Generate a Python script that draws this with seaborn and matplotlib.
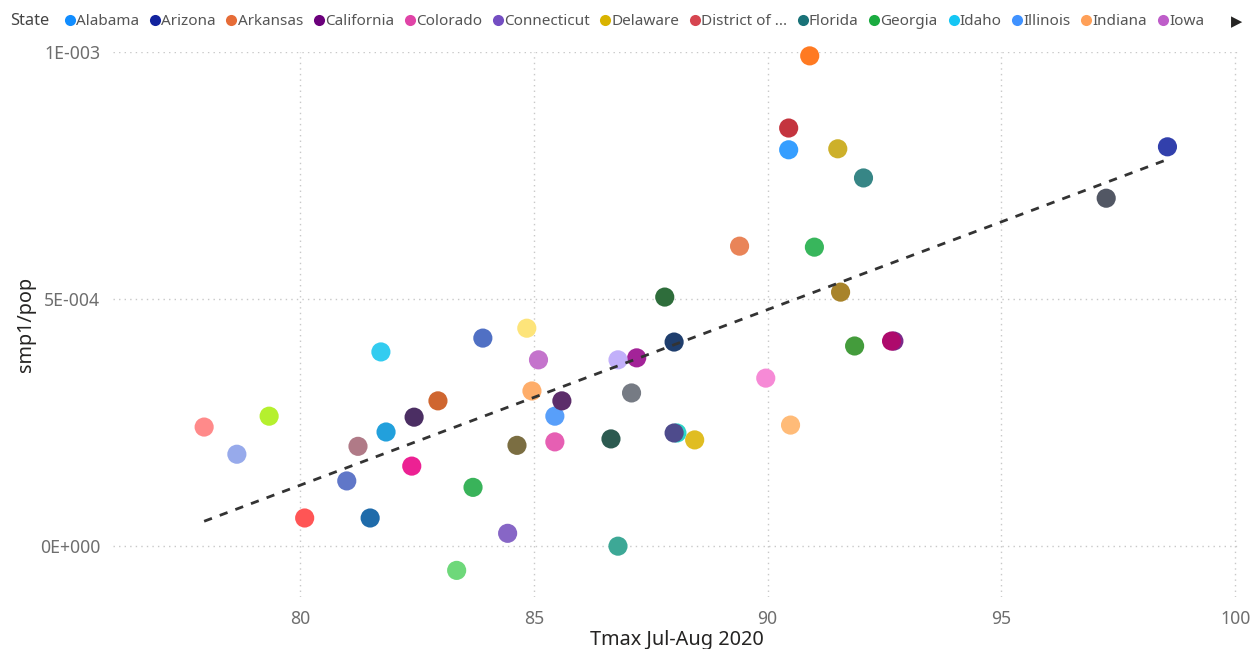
import numpy as np
import pandas as pd
import matplotlib
matplotlib.use("Agg")
import matplotlib.pyplot as plt
from matplotlib.lines import Line2D
from matplotlib.ticker import FuncFormatter
import seaborn as sns

# data
states = ["Alabama", "Arizona", "Arkansas", "California", "Colorado", "Connecticut",
          "Delaware", "District of Columbia", "Florida", "Georgia", "Idaho", "Illinois",
          "Indiana", "Iowa", "Kansas", "Kentucky", "Louisiana", "Maine", "Maryland",
          "Massachusetts", "Michigan", "Minnesota", "Mississippi", "Missouri", "Montana",
          "Nebraska", "Nevada", "New Hampshire", "New Jersey", "New Mexico", "New York",
          "North Carolina", "North Dakota", "Ohio", "Oklahoma", "Oregon", "Pennsylvania",
          "Rhode Island", "South Carolina", "South Dakota", "Tennessee", "Texas", "Utah",
          "Vermont", "Virginia", "Washington", "West Virginia", "Wisconsin"]
tmax = [90.45, 98.55, 89.4, 92.7, 85.45, 84.44,
        88.44, 90.45, 92.05, 91.0, 81.73, 85.45,
        84.96, 85.1, 88.06, 87.09, 91.86, 77.95, 87.2,
        82.44, 81.84, 81.24, 92.65, 88.0, 83.35,
        86.8, 91.56, 78.65, 87.8, 86.65, 82.95,
        84.64, 81.0, 83.91, 91.5, 80.1, 82.39,
        84.85, 89.96, 85.6, 88.0, 97.24, 86.8,
        79.34, 83.7, 81.5, 90.49, 90.9]
smp1_pop = [8.02e-4, 8.08e-4, 6.07e-4, 4.15e-4, 2.11e-4, 0.26e-4,
            2.15e-4, 8.46e-4, 7.45e-4, 6.05e-4, 3.93e-4, 2.63e-4,
            3.14e-4, 3.77e-4, 2.29e-4, 3.10e-4, 4.05e-4, 2.41e-4, 3.81e-4,
            2.61e-4, 2.31e-4, 2.02e-4, 4.15e-4, 4.13e-4, -0.49e-4,
            0.0, 5.14e-4, 1.86e-4, 5.04e-4, 2.17e-4, 2.94e-4,
            2.04e-4, 1.32e-4, 4.21e-4, 8.04e-4, 0.57e-4, 1.62e-4,
            4.41e-4, 3.40e-4, 2.94e-4, 2.29e-4, 7.04e-4, 3.77e-4,
            2.63e-4, 1.19e-4, 0.57e-4, 2.45e-4, 9.92e-4]
point_colors = ["#369EFF", "#3240AC", "#E98458", "#7B2A8A", "#E65FB3", "#8766C6",
                "#E0BD22", "#C4343E", "#378686", "#38B65C", "#33CCF0", "#589FFA",
                "#FEAD6A", "#C474CC", "#2DD4C8", "#767B84", "#449C3C", "#FF8A8A", "#A32398",
                "#4B2E63", "#22A0DC", "#B07A87", "#AE0A6C", "#1F3E6D", "#6ED87A",
                "#3DA896", "#A8832A", "#97AAEB", "#2E6D3B", "#2C5A50", "#CF6630",
                "#7B6E42", "#6077C8", "#5070C4", "#CDB02A", "#FF5555", "#EC2193",
                "#FDE47A", "#F68AD6", "#5C2D6A", "#4E4B8C", "#525764", "#C2B0FA",
                "#B5F02E", "#39B35A", "#1F6BAA", "#FFBB78", "#FF7A22"]

legend_labels = ["Alabama", "Arizona", "Arkansas", "California", "Colorado", "Connecticut",
                 "Delaware", "District of ...", "Florida", "Georgia", "Idaho", "Illinois",
                 "Indiana", "Iowa"]
legend_colors = ["#118DFF", "#12239E", "#E66C37", "#6B007B", "#E044A7", "#744EC2",
                 "#D9B300", "#D64550", "#197278", "#1AAB40", "#15C6F4", "#4092FF",
                 "#FFA058", "#BE5DC9"]

df = pd.DataFrame({"State": states, "Tmax": tmax, "ratio": smp1_pop})
palette = dict(zip(states, point_colors))

sns.set_style("white")
plt.rcParams["font.family"] = ["Noto Sans", "DejaVu Sans"]

fig = plt.figure(figsize=(12.55, 6.49), dpi=100)
ax = fig.add_axes([0.090, 0.080, 0.898, 0.840])

sns.scatterplot(data=df, x="Tmax", y="ratio", hue="State", palette=palette,
                s=190, linewidth=0, alpha=1, legend=False, ax=ax, zorder=3, clip_on=False)
sns.regplot(data=df, x="Tmax", y="ratio", scatter=False, ci=None, ax=ax,
            line_kws={"color": "#333333", "lw": 2, "ls": (0, (3, 3)), "zorder": 4})

ax.set_xlim(76.0, 100.1)
ax.set_ylim(-1.03e-4, 1.0e-3)
ax.set_xticks([80, 85, 90, 95, 100])
ax.set_yticks([0, 5e-4, 1e-3])


def sci_fmt(v, pos):
    if v == 0:
        return "0E+000"
    e = int(np.floor(np.log10(abs(v)) + 1e-9))
    m = v / 10 ** e
    return f"{m:.0f}E{'+' if e >= 0 else '-'}{abs(e):03d}"


ax.yaxis.set_major_formatter(FuncFormatter(sci_fmt))
ax.tick_params(axis="both", labelsize=12.7, colors="#6E6E6E", length=0, pad=9)
ax.grid(True, color="#C8C8C8", linestyle=(0, (1, 3)), linewidth=1)
for s in ax.spines.values():
    s.set_visible(False)
ax.set_xlabel("Tmax Jul-Aug 2020", fontsize=14.3, color="#252423", labelpad=2)
ax.set_ylabel("smp1/pop", fontsize=14.3, color="#252423", labelpad=3)

# legend across the top
fig.text(0.008, 0.967, "State", fontsize=11.8, fontweight="bold", color="#444444", va="center")
handles = [Line2D([0], [0], marker="o", ls="", markersize=8, markerfacecolor=c,
                  markeredgewidth=0) for c in legend_colors]
fig.legend(handles, legend_labels, loc="center left", bbox_to_anchor=(0.046, 0.967),
           ncol=len(handles), frameon=False, fontsize=11, handletextpad=0.0,
           columnspacing=0.63, handlelength=0.8, labelcolor="#555555", borderaxespad=0)
fig.text(0.985, 0.967, "\u25B6", fontsize=10.5, color="#252423", va="center", ha="center",
         family="DejaVu Sans")

fig.savefig("out.png", dpi=100)
